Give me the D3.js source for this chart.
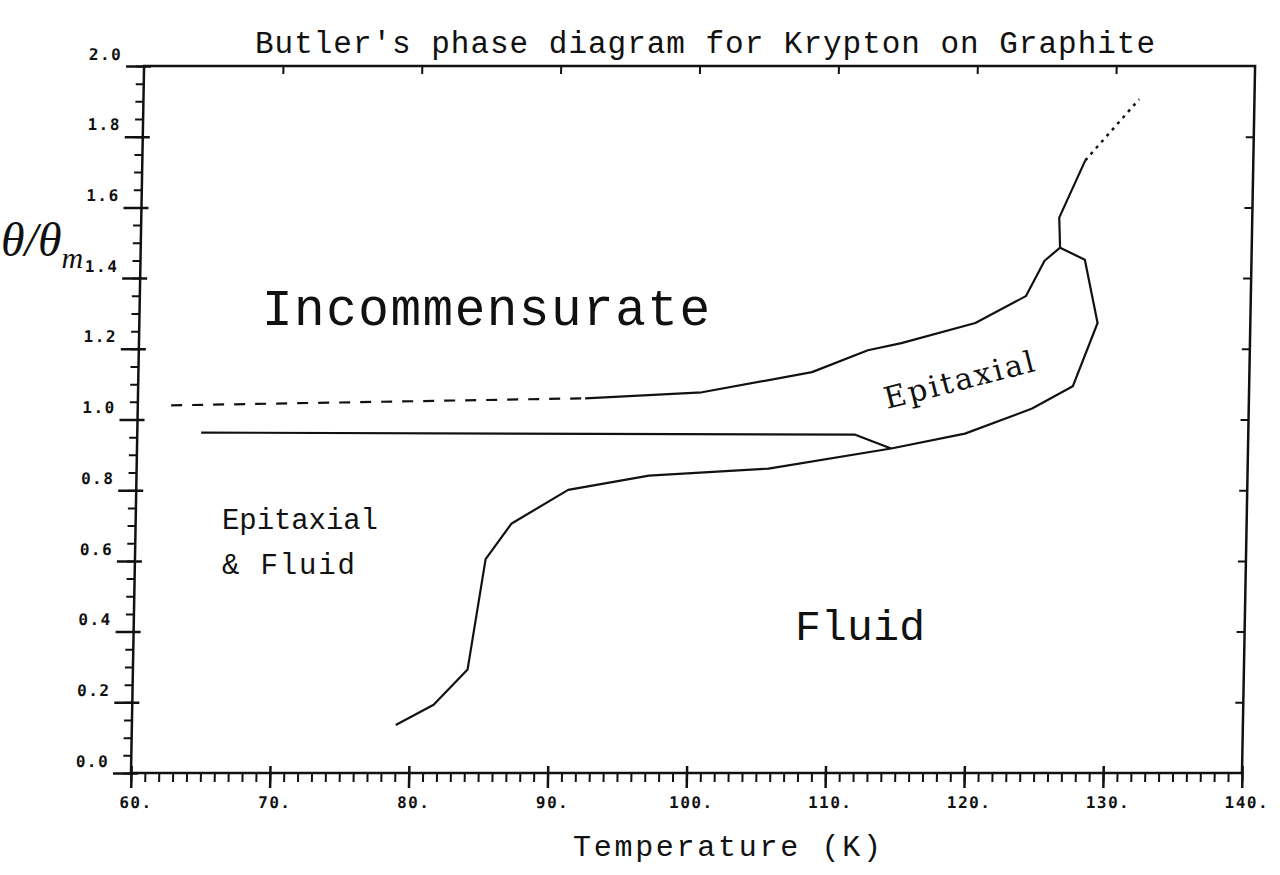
<!DOCTYPE html>
<html>
<head>
<meta charset="utf-8">
<script src="https://cdn.jsdelivr.net/npm/d3@7"></script>
<style>
  body { margin: 0; background: #fff; }
  .tick text { font-family: "DejaVu Sans Mono", monospace; font-weight: bold; font-size: 16px; fill: #111; }
  .lbl { font-family: "Liberation Mono", "Courier New", monospace; fill: #111; }
</style>
</head>
<body>
<div id="chart"></div>
<script>
// Tick values on both axes
var tempTicks = [60, 70, 80, 90, 100, 110, 120, 130, 140];
var thetaTicks = [0, 0.2, 0.4, 0.6, 0.8, 1.0, 1.2, 1.4, 1.6, 1.8, 2.0];

// Fluid boundary (lower curve up to the triple point)
var fluidT = [79.0, 81.7, 84.1, 85.25, 87.05, 91.1, 96.9, 105.5, 114.3, 119.6, 124.4, 127.3, 129.0, 128.0, 126.2];
var fluidTheta = [0.136, 0.193, 0.293, 0.605, 0.705, 0.801, 0.841, 0.861, 0.918, 0.960, 1.031, 1.094, 1.273, 1.452, 1.486];

// Incommensurate boundary (solid part, up to the triple point)
var incT = [92.2, 100.6, 108.5, 112.5, 114.9, 120.2, 123.8, 125.1, 126.2];
var incTheta = [1.060, 1.077, 1.134, 1.196, 1.216, 1.273, 1.349, 1.449, 1.486];

// Incommensurate boundary, dashed extension to low temperature
var incDashT = [62.4, 92.2];
var incDashTheta = [1.040, 1.060];

// Border between "Epitaxial & Fluid" and "Epitaxial"
var epiT = [64.6, 111.7, 114.3];
var epiTheta = [0.963, 0.957, 0.918];

// Line above the triple point, and its dotted continuation
var topT = [126.2, 126.1, 127.9];
var topTheta = [1.486, 1.571, 1.733];
var topDotT = [127.9, 131.7];
var topDotTheta = [1.733, 1.906];

var width = 1280, height = 875;

var svg = d3.select("#chart")
    .append("svg")
    .attr("width", width)
    .attr("height", height);

// scales
var x = d3.scaleLinear().domain([60, 140]).range([131, 1242]);
var y = d3.scaleLinear().domain([0, 2]).range([773, 66]);

// the scanned original leans slightly, so the plot is skewed a touch
var plot = svg.append("g")
    .attr("transform", "translate(0,773) skewX(-1.06) translate(0,-773)");

// frame
plot.append("rect")
    .attr("x", x(60))
    .attr("y", y(2))
    .attr("width", x(140) - x(60))
    .attr("height", y(0) - y(2))
    .attr("fill", "none")
    .attr("stroke", "#111")
    .attr("stroke-width", 2.5);

// bottom axis: minor ticks
plot.append("g")
    .attr("transform", "translate(0," + y(0) + ")")
    .call(d3.axisBottom(x).ticks(80).tickSize(9).tickSizeOuter(0).tickFormat(""))
    .call(function (g) { g.select(".domain").remove(); })
    .selectAll("line").attr("stroke", "#111").attr("stroke-width", 2);

// bottom axis: major ticks with labels
var xAxis = plot.append("g")
    .attr("transform", "translate(0," + y(0) + ")")
    .call(d3.axisBottom(x).tickValues(tempTicks).tickSize(15).tickSizeOuter(0)
        .tickFormat(function (d) { return d + "."; }));
xAxis.select(".domain").remove();
xAxis.selectAll("line").attr("y1", -7).attr("stroke", "#111").attr("stroke-width", 2.5);
xAxis.selectAll("text").attr("y", 24).attr("dx", 5).style("letter-spacing", "1.5px");

// left axis: minor ticks
plot.append("g")
    .attr("transform", "translate(" + x(60) + ",0)")
    .call(d3.axisLeft(y).ticks(50).tickSize(8).tickSizeOuter(0).tickFormat(""))
    .call(function (g) { g.select(".domain").remove(); })
    .selectAll("line").attr("stroke", "#111").attr("stroke-width", 2);

// left axis: major ticks with labels
var yAxis = plot.append("g")
    .attr("transform", "translate(" + x(60) + ",0)")
    .call(d3.axisLeft(y).tickValues(thetaTicks).tickSize(18).tickSizeOuter(0)
        .tickFormat(d3.format(".1f")));
yAxis.select(".domain").remove();
yAxis.selectAll("line").attr("x1", 7).attr("stroke", "#111").attr("stroke-width", 2.5);
yAxis.selectAll("text").attr("x", -22).attr("y", -12).style("letter-spacing", "1.5px");

// top and right axes: inward major ticks only
plot.append("g")
    .attr("transform", "translate(0," + y(2) + ")")
    .call(d3.axisTop(x).tickValues(tempTicks.slice(1, -1)).tickSize(-8).tickSizeOuter(0).tickFormat(""))
    .call(function (g) { g.select(".domain").remove(); })
    .selectAll("line").attr("stroke", "#111").attr("stroke-width", 2);

plot.append("g")
    .attr("transform", "translate(" + x(140) + ",0)")
    .call(d3.axisRight(y).tickValues(thetaTicks.slice(1, -1)).tickSize(-8).tickSizeOuter(0).tickFormat(""))
    .call(function (g) { g.select(".domain").remove(); })
    .selectAll("line").attr("stroke", "#111").attr("stroke-width", 2);

// phase boundaries
var line = d3.line()
    .x(function (d) { return x(d[0]); })
    .y(function (d) { return y(d[1]); });

function drawLine(ts, thetas, dash, w) {
    plot.append("path")
        .datum(d3.zip(ts, thetas))
        .attr("d", line)
        .attr("fill", "none")
        .attr("stroke", "#111")
        .attr("stroke-width", w || 2.2)
        .attr("stroke-linejoin", "round")
        .attr("stroke-dasharray", dash || null);
}

drawLine(fluidT, fluidTheta);
drawLine(incT, incTheta);
drawLine(incDashT, incDashTheta, "11,10");
drawLine(epiT, epiTheta);
drawLine(topT, topTheta);
drawLine(topDotT, topDotTheta, "3,5", 2.5);

// title
svg.append("text")
    .attr("class", "lbl")
    .attr("x", 255)
    .attr("y", 53)
    .attr("textLength", 900)
    .style("font-size", "31px")
    .text("Butler's phase diagram for Krypton on Graphite");

// axis titles
svg.append("text")
    .attr("class", "lbl")
    .attr("x", 573)
    .attr("y", 856)
    .attr("textLength", 308)
    .style("font-size", "30px")
    .text("Temperature (K)");

var yTitle = svg.append("text")
    .attr("x", 1)
    .attr("y", 256)
    .style("font-family", "'Liberation Serif', serif")
    .style("font-style", "italic")
    .style("font-size", "48px")
    .style("fill", "#111");
yTitle.append("tspan").text("θ/θ");
yTitle.append("tspan").attr("dy", 12).style("font-size", "30px").text("m");

// region labels
svg.append("text").attr("class", "lbl")
    .attr("x", 262).attr("y", 325).attr("textLength", 448)
    .style("font-size", "51px")
    .text("Incommensurate");

svg.append("text").attr("class", "lbl")
    .attr("x", 795).attr("y", 640).attr("textLength", 130)
    .style("font-size", "43px")
    .text("Fluid");

svg.append("text").attr("class", "lbl")
    .attr("x", 222).attr("y", 529).attr("textLength", 156)
    .style("font-size", "29px")
    .text("Epitaxial");

svg.append("text").attr("class", "lbl")
    .attr("x", 222).attr("y", 574).attr("textLength", 133)
    .style("font-size", "29px")
    .text("& Fluid");

svg.append("text")
    .attr("transform", "translate(887,409) rotate(-14.3)")
    .attr("textLength", 154)
    .style("font-family", "'DejaVu Serif', serif")
    .style("font-size", "30px")
    .style("fill", "#111")
    .text("Epitaxial");
</script>
</body>
</html>
